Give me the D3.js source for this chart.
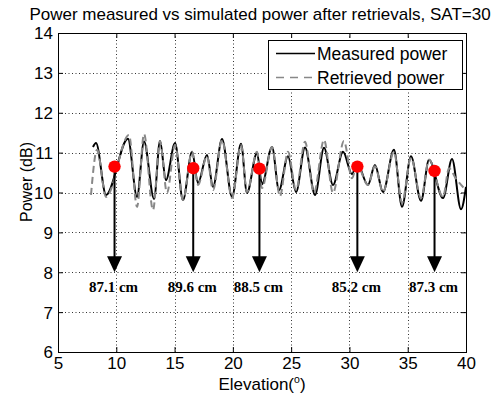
<!DOCTYPE html>
<html><head><meta charset="utf-8">
<script src="https://cdn.jsdelivr.net/npm/d3@7"></script>
<style>body{margin:0;background:#fff}svg{display:block}</style>
</head><body><script>
// ---- data ----
const measuredX = [8.00, 8.26, 9.12, 11.00, 11.78, 12.38, 13.24, 13.75, 14.26, 15.04, 15.72, 16.50, 17.01, 17.78, 18.30, 19.07, 19.93, 20.70, 21.21, 22.07, 22.50, 23.36, 23.96, 24.73, 25.42, 26.19, 27.05, 27.82, 28.59, 29.45, 30.22, 30.65, 31.59, 32.19, 32.88, 33.82, 34.51, 35.28, 36.14, 36.83, 38.03, 38.80, 39.57, 40.00];
const measuredY = [11.14, 11.24, 9.94, 11.35, 9.89, 11.28, 9.84, 11.29, 10.31, 11.24, 9.81, 11.02, 10.24, 10.94, 10.14, 11.34, 9.89, 11.22, 9.99, 10.99, 10.21, 11.14, 10.06, 10.91, 10.01, 11.13, 9.94, 11.12, 10.19, 11.02, 10.46, 10.74, 10.19, 10.69, 10.01, 11.07, 9.64, 10.91, 9.79, 10.82, 9.86, 10.84, 9.58, 10.14];
const retrievedX = [7.83, 8.35, 9.12, 11.09, 11.78, 12.38, 13.15, 13.75, 14.35, 15.04, 15.72, 16.50, 17.01, 17.78, 18.30, 19.07, 19.93, 20.70, 21.21, 22.07, 22.50, 23.36, 24.04, 24.73, 25.42, 26.19, 26.96, 27.82, 28.59, 29.53, 30.22, 30.65, 31.59, 32.19, 32.88, 33.82, 34.51, 35.28, 36.14, 36.83, 38.03, 38.54, 39.11, 39.83];
const retrievedY = [9.94, 11.07, 9.89, 11.44, 9.64, 11.47, 9.56, 11.29, 9.99, 11.19, 9.81, 11.02, 10.19, 10.91, 10.06, 11.32, 9.86, 11.19, 10.01, 11.02, 10.11, 11.14, 9.91, 11.02, 10.06, 11.27, 9.99, 11.32, 9.99, 11.29, 10.36, 10.69, 10.19, 10.66, 10.01, 11.02, 9.74, 10.87, 9.86, 10.82, 9.89, 10.61, 10.36, 10.11];
const markerX = [9.85, 16.60, 22.28, 30.68, 37.30];
const markerY = [10.65, 10.61, 10.60, 10.65, 10.54];
const arrowEndY = 8;
const depthLabels = ["87.1 cm", "89.6 cm", "88.5 cm", "85.2 cm", "87.3 cm"];
const xTicks = [5, 10, 15, 20, 25, 30, 35, 40];
const yTicks = [6, 7, 8, 9, 10, 11, 12, 13, 14];
const seriesNames = ["Measured power", "Retrieved power"];
const titleText = "Power measured vs simulated power after retrievals, SAT=30";

// ---- layout ----
const W = 503, H = 398;
const L = 58, R = 466, T = 33, B = 352;
const FONT = "'Liberation Sans', Arial, sans-serif";
const svg = d3.select("body").append("svg").attr("width", W).attr("height", H)
  .style("font-family", FONT);
const x = d3.scaleLinear().domain([5, 40]).range([L, R]);
const y = d3.scaleLinear().domain([6, 14]).range([B, T]);

// grid
const grid = svg.append("g").attr("stroke", "#333").attr("stroke-width", 1).attr("stroke-dasharray", "1,2.5");
grid.selectAll(".gx").data(xTicks.slice(1, -1)).join("line")
  .attr("x1", d => Math.round(x(d)) + 0.5).attr("x2", d => Math.round(x(d)) + 0.5)
  .attr("y1", T).attr("y2", B);
grid.selectAll(".gy").data(yTicks.slice(1, -1)).join("line")
  .attr("y1", d => Math.round(y(d)) + 0.5).attr("y2", d => Math.round(y(d)) + 0.5)
  .attr("x1", L).attr("x2", R);

// axes
const tickFs = 17;
const ax = svg.append("g").attr("transform", `translate(0,${B})`)
  .call(d3.axisBottom(x).tickValues(xTicks).tickSizeInner(-5).tickSizeOuter(0).tickPadding(3));
const axT = svg.append("g").attr("transform", `translate(0,${T})`)
  .call(d3.axisTop(x).tickValues(xTicks).tickSizeInner(-5).tickSizeOuter(0).tickFormat(""));
const ay = svg.append("g").attr("transform", `translate(${L},0)`)
  .call(d3.axisLeft(y).tickValues(yTicks).tickSizeInner(-5).tickSizeOuter(0).tickPadding(5));
const ayR = svg.append("g").attr("transform", `translate(${R},0)`)
  .call(d3.axisRight(y).tickValues(yTicks).tickSizeInner(-5).tickSizeOuter(0).tickFormat(""));
[ax, axT, ay, ayR].forEach(g => {
  g.select(".domain").remove();
  g.selectAll("line").attr("stroke", "#000");
  g.selectAll("text").attr("font-size", tickFs).attr("fill", "#000").attr("font-family", FONT);
});
ax.selectAll("text").attr("dy", "0.82em");
ay.selectAll("text").attr("dy", "0.35em");

// curves
const line = d3.line().x(d => x(d[0])).y(d => y(d[1])).curve(d3.curveMonotoneX);
svg.append("path").datum(measuredX.map((v, i) => [v, measuredY[i]]))
  .attr("d", line).attr("fill", "none").attr("stroke", "#000").attr("stroke-width", 2);
svg.append("path").datum(retrievedX.map((v, i) => [v, retrievedY[i]]))
  .attr("d", line).attr("fill", "none").attr("stroke", "#888").attr("stroke-width", 2)
  .attr("stroke-dasharray", "7,4");

// frame
svg.append("rect").attr("x", L + 0.5).attr("y", T + 0.5).attr("width", R - L).attr("height", B - T)
  .attr("fill", "none").attr("stroke", "#000").attr("stroke-width", 1);

// arrows, markers, labels
const mk = svg.append("g");
markerX.forEach((mx, i) => {
  const px = x(mx), tip = y(arrowEndY);
  mk.append("line").attr("x1", px).attr("x2", px).attr("y1", y(markerY[i])).attr("y2", tip - 14)
    .attr("stroke", "#000").attr("stroke-width", 2);
  mk.append("path").attr("d", `M${px - 7.5},${tip - 16}L${px + 7.5},${tip - 16}L${px},${tip}Z`).attr("fill", "#000");
  mk.append("circle").attr("cx", px).attr("cy", y(markerY[i])).attr("r", 6.2).attr("fill", "#ff0000");
  mk.append("text").attr("x", px - 1).attr("y", tip + 20).attr("text-anchor", "middle")
    .attr("font-family", "'Liberation Serif', 'Times New Roman', serif").attr("font-weight", "bold")
    .attr("font-size", 15).text(depthLabels[i]);
});

// legend
const legFs = 17.5;
const lg = svg.append("g");
lg.append("rect").attr("x", 268.5).attr("y", 40.5).attr("width", 194).attr("height", 49)
  .attr("fill", "#fff").attr("stroke", "#000");
lg.append("line").attr("x1", 276).attr("x2", 315).attr("y1", 53.5).attr("y2", 53.5).attr("stroke", "#000").attr("stroke-width", 1.5);
lg.append("line").attr("x1", 276).attr("x2", 315).attr("y1", 77.5).attr("y2", 77.5).attr("stroke", "#888").attr("stroke-width", 1.5).attr("stroke-dasharray", "8,6");
lg.append("text").attr("x", 317).attr("y", 60).attr("font-size", legFs).text(seriesNames[0]);
lg.append("text").attr("x", 317).attr("y", 83.5).attr("font-size", legFs).text(seriesNames[1]);

// title and axis labels
svg.append("text").attr("x", 260).attr("y", 20).attr("text-anchor", "middle").attr("font-size", 17).text(titleText);
const xl = svg.append("text").attr("x", 262).attr("y", 390).attr("text-anchor", "middle").attr("font-size", 17);
xl.append("tspan").text("Elevation(");
xl.append("tspan").attr("font-size", 10.5).attr("dy", -7).text("o");
xl.append("tspan").attr("dy", 7).text(")");
svg.append("text").attr("transform", "translate(32,182) rotate(-90)").attr("text-anchor", "middle")
  .attr("font-size", 16).text("Power (dB)");
</script></body></html>
